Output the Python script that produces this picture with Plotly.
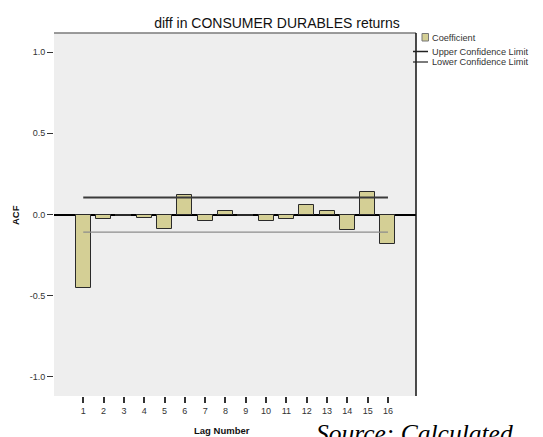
import plotly.graph_objects as go

# ACF data
lags = list(range(1, 17))
acf = [-0.455, -0.027, -0.012, -0.024, -0.087, 0.117, -0.040, 0.022,
       -0.008, -0.040, -0.028, 0.057, 0.022, -0.097, 0.141, -0.184]
upper_limit = [0.105, 0.105, 0.105, 0.105, 0.105, 0.105, 0.105, 0.105,
               0.105, 0.105, 0.105, 0.105, 0.105, 0.105, 0.105, 0.105]
lower_limit = [-0.108, -0.108, -0.108, -0.108, -0.108, -0.108, -0.108, -0.108,
               -0.108, -0.108, -0.108, -0.108, -0.108, -0.108, -0.108, -0.108]
y_ticks = [-1.0, -0.5, 0.0, 0.5, 1.0]
y_ticktext = ["-1.0", "-0.5", "0.0", "0.5", "1.0"]

BAR_COLOR = "#D4CF95"
FONT = "Liberation Sans, Arial, sans-serif"

# the page body has an 8px margin, so the figure sits 8px in from the corner
OFF = 8
W, H = 543, 437
PLOT_L, PLOT_R, PLOT_T, PLOT_B = 54, 416, 33, 396  # plot area in window pixels
L = PLOT_L - OFF
T = PLOT_T - OFF
R = W - (PLOT_R - OFF)
B = H - (PLOT_B - OFF)
PW, PH = PLOT_R - PLOT_L, PLOT_B - PLOT_T


def px(x):
    return (x - PLOT_L) / PW


def py(y):
    return (PLOT_B - y) / PH


fig = go.Figure()

fig.add_trace(go.Bar(
    x=lags, y=acf, width=0.74,
    marker={"color": BAR_COLOR, "line": {"color": "#2a2a2a", "width": 1}},
    name="Coefficient",
))
fig.add_trace(go.Scatter(
    x=lags, y=upper_limit, mode="lines",
    line={"color": "#3a3a3a", "width": 2},
    name="Upper Confidence Limit",
))
fig.add_trace(go.Scatter(
    x=lags, y=lower_limit, mode="lines",
    line={"color": "#8c8c8c", "width": 1.2},
    name="Lower Confidence Limit",
))

shapes = [
    # frame: top and right edges
    {"type": "line", "xref": "paper", "yref": "paper", "x0": 0, "x1": 1, "y0": 1, "y1": 1,
     "line": {"color": "#7a7a7a", "width": 1.5}},
    {"type": "line", "xref": "paper", "yref": "paper", "x0": 1, "x1": 1, "y0": 0, "y1": 1,
     "line": {"color": "#111111", "width": 1.5}},
    # legend symbols
    {"type": "rect", "xref": "paper", "yref": "paper",
     "x0": px(422), "x1": px(428.5), "y0": py(41), "y1": py(33.5),
     "fillcolor": BAR_COLOR, "line": {"color": "#777777", "width": 1}},
    {"type": "line", "xref": "paper", "yref": "paper",
     "x0": px(413), "x1": px(428), "y0": py(51.5), "y1": py(51.5),
     "line": {"color": "#222222", "width": 1.5}},
    {"type": "line", "xref": "paper", "yref": "paper",
     "x0": px(413), "x1": px(428), "y0": py(62), "y1": py(62),
     "line": {"color": "#222222", "width": 1.2}},
]

annotations = [
    {"text": "ACF", "xref": "paper", "yref": "paper", "x": px(16), "y": py(215),
     "xanchor": "center", "yanchor": "middle",
     "textangle": -90, "showarrow": False,
     "font": {"family": FONT, "size": 9.5, "color": "#111111", "weight": "bold"}},
    {"text": "Lag Number", "xref": "paper", "yref": "paper", "x": px(222), "y": py(430),
     "xanchor": "center", "yanchor": "middle",
     "showarrow": False,
     "font": {"family": FONT, "size": 9.5, "color": "#111111", "weight": "bold"}},
    {"text": "<i>Source: Calculated</i>", "xref": "paper", "yref": "paper",
     "x": px(314), "y": py(417), "xanchor": "left", "yanchor": "top",
     "showarrow": False,
     "font": {"family": "Liberation Serif, Times New Roman, serif", "size": 25.5, "color": "#000000"}},
]
legend_items = [("Coefficient", 38), ("Upper Confidence Limit", 51.5), ("Lower Confidence Limit", 62)]
for label, ypos in legend_items:
    annotations.append({
        "text": label, "xref": "paper", "yref": "paper", "x": px(430), "y": py(ypos),
        "xanchor": "left", "yanchor": "middle", "showarrow": False,
        "font": {"family": FONT, "size": 9.2, "color": "#333333"},
    })

fig.update_layout(
    width=W, height=H,
    margin={"l": L, "r": R, "t": T, "b": B},
    paper_bgcolor="white",
    plot_bgcolor="#EEEEEE",
    showlegend=False,
    bargap=0,
    title={
        "text": "diff in CONSUMER DURABLES returns",
        "x": px(277), "xref": "paper", "xanchor": "center",
        "y": 1 - (23.5 - OFF) / H, "yanchor": "middle",
        "font": {"family": FONT, "size": 14, "color": "#111111"},
    },
    xaxis={
        "range": [-0.44, 17.38],
        "tickvals": lags,
        "ticks": "outside", "ticklen": 6, "tickwidth": 1.5, "tickcolor": "#333333",
        "tickfont": {"family": FONT, "size": 9, "color": "#333333"},
        "showgrid": False, "zeroline": False, "showline": False,
    },
    yaxis={
        "range": [-1.117, 1.117],
        "tickvals": y_ticks, "ticktext": y_ticktext,
        "ticks": "outside", "ticklen": 6, "tickwidth": 1, "tickcolor": "#333333",
        "tickfont": {"family": FONT, "size": 9, "color": "#333333"},
        "showgrid": False, "showline": False,
        "zeroline": True, "zerolinecolor": "#000000", "zerolinewidth": 2,
    },
    shapes=shapes,
    annotations=annotations,
)

fig.write_html("out.html")
